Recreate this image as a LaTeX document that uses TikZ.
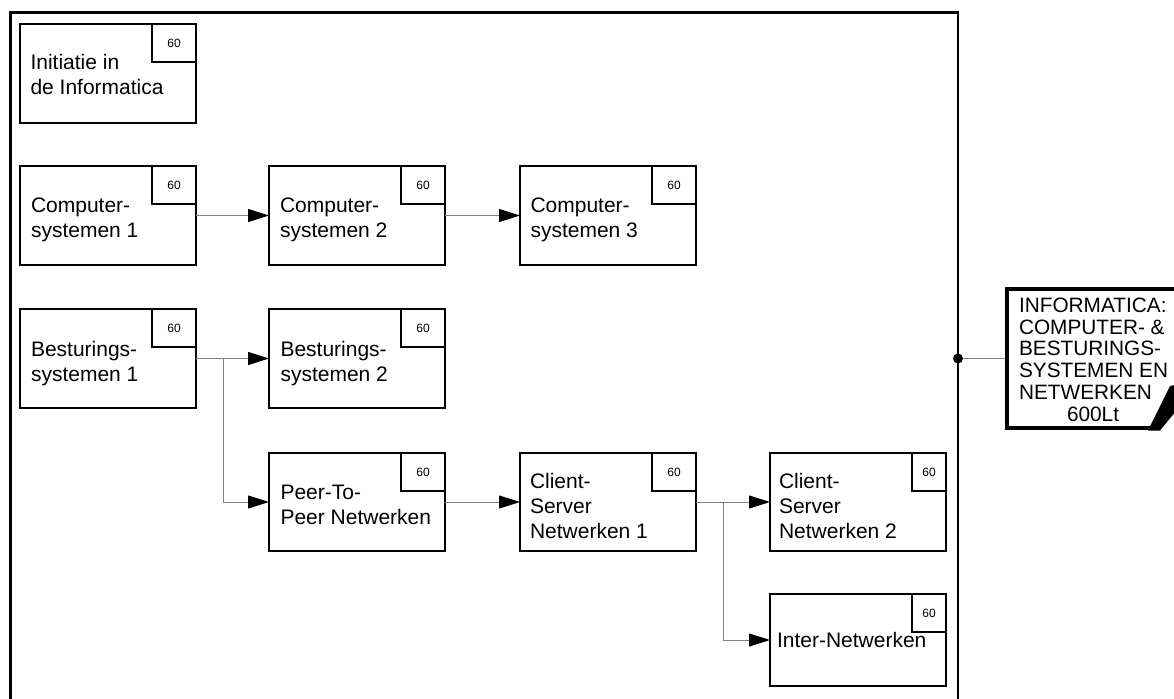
\documentclass[tikz,border=0pt]{standalone}
\usepackage{fontspec}
\setmainfont{Liberation Sans}
\usetikzlibrary{arrows.meta}
\tikzset{
  course/.style={draw, line width=1.8pt, minimum width=176pt, inner sep=0pt, outer sep=0pt, anchor=north west},
  credit/.style={draw, line width=1.6pt, minimum height=38pt, inner sep=0pt, outer sep=0pt, anchor=north east, font=\fontsize{12}{14}\selectfont},
  coursetext/.style={anchor=north west, inner sep=0pt, outer sep=0pt, align=left, font=\fontsize{21}{25}\selectfont},
  conn/.style={draw=black!50, line width=1pt, -{Triangle[length=21pt,width=13pt,color=black]}},
  frameline/.style={line width=2.2pt},
}
% #1 name, #2 x, #3 y, #4 height, #5 corner width, #6 text offset from top, #7 text offset from left, #8 text
\newcommand\mkcourse[8]{%
  \node[course, minimum height=#4pt] (#1) at (#2,#3) {};
  \node[credit, minimum width=#5pt] (#1-c) at (#1.north east) {60};
  \node[coursetext] (#1-t) at ([xshift=#7pt, yshift=-#6pt]#1.north west) {#8};
}
\begin{document}
\begin{tikzpicture}[x=1pt, y=-1pt]
\useasboundingbox (0,0) rectangle (1174,698);
\clip (0,0) rectangle (1174,698);
\fill[white] (0,0) rectangle (1174,698);

% outer frame
\draw[frameline] (10.5,720) -- (10.5,12.5) -- (958,12.5) -- (958,720);

\mkcourse{ini}{20}{24}{99}{44}{30}{10.5}{Initiatie in\\de Informatica}
\mkcourse{cs1}{20}{166}{99}{44}{31.5}{11}{Computer-\\systemen 1}
\mkcourse{cs2}{269}{166}{99}{44}{31.5}{11}{Computer-\\systemen 2}
\mkcourse{cs3}{520}{166}{99}{44}{31.5}{10.5}{Computer-\\systemen 3}
\mkcourse{bs1}{20}{309}{99}{44}{32}{11}{Besturings-\\systemen 1}
\mkcourse{bs2}{269}{309}{99}{44}{32}{11.5}{Besturings-\\systemen 2}
\mkcourse{p2p}{269}{453}{98}{44}{32}{11.5}{Peer-To-\\Peer Netwerken}
\mkcourse{csn1}{520}{453}{98}{44}{20}{10}{Client-\\Server\\Netwerken 1}
\mkcourse{csn2}{770}{453}{98}{34}{20}{9}{Client-\\Server\\Netwerken 2}
\mkcourse{inet}{770}{594}{92}{34}{38}{7}{Inter-Netwerken}

% connectors
\draw[conn] (cs1) -- (cs2);
\draw[conn] (cs2) -- (cs3);
\draw[conn] (bs1) -- (bs2);
\draw[conn] (bs1.east) -- ++(27,0) |- (p2p.west);
\draw[conn] (p2p) -- (csn1);
\draw[conn] (csn1) -- (csn2);
\draw[conn] (csn1.east) -- ++(27,0) |- (inet.west);

% final box
\draw[line width=4.5pt] (1200,289) -- (1007,289) -- (1007,428) -- (1151,428);
\fill[black] (1148,430.5) -- (1170,386) -- (1185,383) -- (1185,400) -- (1160,430.5) -- cycle;
\node[anchor=north west, inner sep=0pt, outer sep=0pt, align=left, font=\fontsize{20.8}{21.7}\selectfont] (fin) at (1019,298)
  {INFORMATICA:\\COMPUTER- \&\\BESTURINGS-\\SYSTEMEN EN\\NETWERKEN\\\hspace*{48pt}600Lt};
\coordinate (dot) at (958,358.5);
\coordinate (finin) at (1005,358.5);
\draw[draw=black!50, line width=1pt] (dot) -- (finin);
\fill[black] (dot) circle (5);
\end{tikzpicture}
\end{document}
